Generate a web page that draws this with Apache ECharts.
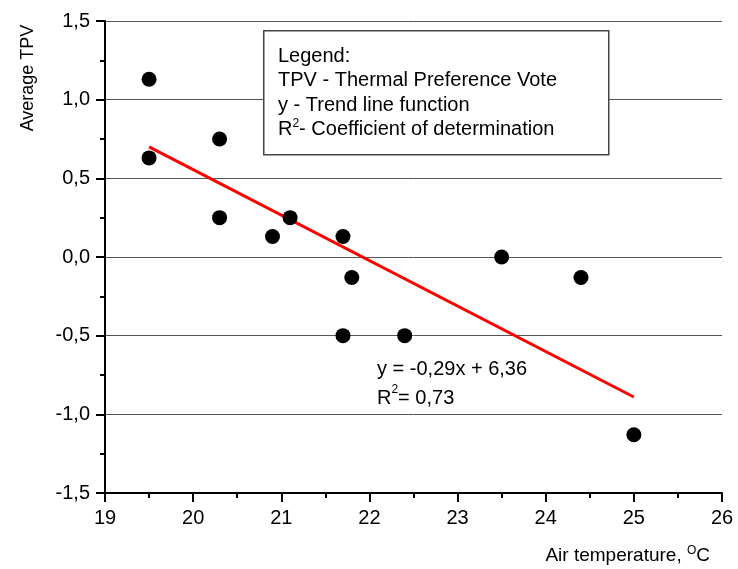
<!DOCTYPE html>
<html>
<head>
<meta charset="utf-8">
<script src="https://cdn.jsdelivr.net/npm/echarts@6/dist/echarts.min.js"></script>
<style>
  html, body { margin: 0; padding: 0; background: #fff; }
  #chart { width: 738px; height: 569px; }
</style>
</head>
<body>
<div id="chart"></div>
<script>
// measured points (air temperature, average TPV)
var airTemp = [19.5, 19.5, 20.3, 20.3, 20.9, 21.1, 21.7, 21.8, 21.7, 22.4, 23.5, 24.4, 25.0];
var avgTPV  = [1.13, 0.63, 0.75, 0.25, 0.13, 0.25, 0.13, -0.13, -0.5, -0.5, 0.0, -0.13, -1.13];
// trend line end points
var trendX = [19.5, 25.0];
var trendY = [0.70, -0.89];
var xTicks = [19, 20, 21, 22, 23, 24, 25, 26];
var yTicks = [-1.5, -1.0, -0.5, 0.0, 0.5, 1.0, 1.5];

var font = 'Liberation Sans, Arial, sans-serif';
var dom = document.getElementById('chart');
var myChart = echarts.init(dom);

var points = [];
for (var i = 0; i < airTemp.length; i++) {
	points.push([airTemp[i], avgTPV[i]]);
}
var trend = [];
for (var j = 0; j < trendX.length; j++) {
	trend.push([trendX[j], trendY[j]]);
}
var sup = { fontSize: 12, verticalAlign: 'top', padding: [0, 0, 10, 0], fontFamily: font, fill: '#000', color: '#000' };

var option = {
	animation: false,
	backgroundColor: '#fff',
	grid: { left: 105, right: 16, top: 21, bottom: 76 },
	xAxis: {
		type: 'value',
		min: xTicks[0],
		max: xTicks[xTicks.length - 1],
		interval: 1,
		axisLine: { show: true, onZero: false, lineStyle: { color: '#000', width: 2 } },
		axisTick: { show: true, length: 9, lineStyle: { color: '#000', width: 2 } },
		minorTick: { show: true, splitNumber: 2, length: 5, lineStyle: { color: '#000', width: 2 } },
		splitLine: { show: false },
		axisLabel: { color: '#000', fontSize: 20, fontFamily: font, margin: 15 }
	},
	yAxis: {
		type: 'value',
		min: yTicks[0],
		max: yTicks[yTicks.length - 1],
		interval: 0.5,
		axisLine: { show: true, onZero: false, lineStyle: { color: '#000', width: 2 } },
		axisTick: { show: true, length: 9, lineStyle: { color: '#000', width: 2 } },
		minorTick: { show: true, splitNumber: 2, length: 5, lineStyle: { color: '#000', width: 2 } },
		splitLine: { show: true, lineStyle: { color: '#555', width: 1 } },
		axisLabel: {
			color: '#000', fontSize: 20, fontFamily: font, margin: 15,
			formatter: function (v) { return v.toFixed(1).replace('.', ','); }
		}
	},
	graphic: [
		{
			type: 'rect', left: 263, top: 30, z: 10,
			shape: { width: 345, height: 124 },
			style: { fill: '#fff', stroke: '#444', lineWidth: 1.5 }
		},
		{
			type: 'text', left: 278, top: 44, z: 11,
			style: {
				text: 'Legend:\nTPV - Thermal Preference Vote\ny - Trend line function\nR{s|2}- Coefficient of determination',
				font: '20px ' + font, fill: '#000', lineHeight: 24.5,
				rich: { s: sup }
			}
		},
		{
			type: 'text', left: 377, top: 355, z: 11,
			style: {
				text: 'y = -0,29x + 6,36\nR{s|2}= 0,73',
				font: '20px ' + font, fill: '#000', lineHeight: 29,
				rich: { s: sup }
			}
		},
		{
			type: 'text', x: 28, y: 78, rotation: Math.PI / 2, z: 11,
			style: {
				text: 'Average TPV', font: '18px ' + font, fill: '#000',
				align: 'center', verticalAlign: 'middle'
			}
		},
		{
			type: 'text', x: 710, y: 556, z: 11,
			style: {
				text: 'Air temperature, {s|O}C', font: '19px ' + font, fill: '#000',
				align: 'right', verticalAlign: 'middle',
				rich: { s: sup }
			}
		}
	],
	series: [
		{
			type: 'line',
			data: trend,
			symbol: 'none',
			lineStyle: { color: '#ff0000', width: 3 },
			z: 3
		},
		{
			type: 'scatter',
			data: points,
			symbol: 'circle',
			symbolSize: 15,
			itemStyle: { color: '#000', opacity: 1 },
			z: 4
		}
	]
};
if (option && typeof option === "object") {
	myChart.setOption(option, true);
}
</script>
</body>
</html>
